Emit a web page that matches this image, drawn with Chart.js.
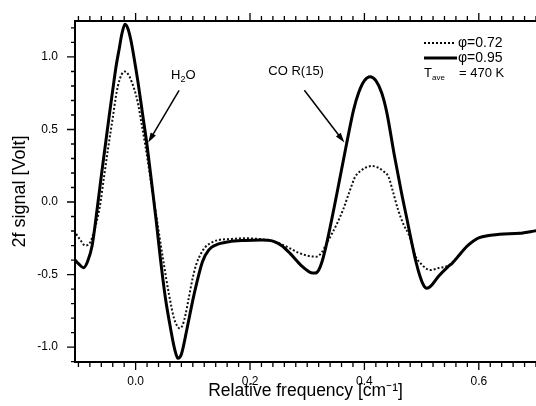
<!DOCTYPE html>
<html>
<head>
<meta charset="utf-8">
<script src="https://cdn.jsdelivr.net/npm/chart.js@4.4.0/dist/chart.umd.min.js"></script>
<style>
  html, body { margin: 0; padding: 0; background: #fff; }
</style>
</head>
<body>
<canvas id="chart" width="536" height="406"></canvas>
<script>
// phi = 0.95 (solid line)
const solidX = [-0.106, -0.100, -0.091, -0.084, -0.076, -0.067, -0.060, -0.053, -0.046, -0.038, -0.034, -0.029, -0.024,
  -0.0185, -0.013, -0.008, -0.003, 0.004, 0.012, 0.020, 0.029, 0.036, 0.043, 0.052, 0.061, 0.068, 0.074, 0.080, 0.090,
  0.102, 0.117, 0.128, 0.140, 0.163, 0.190, 0.220, 0.240, 0.255, 0.270, 0.290, 0.305, 0.314, 0.320, 0.326, 0.334,
  0.352, 0.369, 0.381, 0.390, 0.400, 0.410, 0.420, 0.430, 0.439, 0.452, 0.465, 0.474, 0.483, 0.490, 0.497, 0.503,
  0.509, 0.516, 0.530, 0.545, 0.554, 0.567, 0.578, 0.590, 0.601, 0.636, 0.671, 0.700];
const solidY = [-0.40, -0.425, -0.453, -0.41, -0.30, -0.04, 0.18, 0.39, 0.60, 0.83, 0.94, 1.05, 1.16,
  1.226, 1.19, 1.11, 1.00, 0.83, 0.61, 0.39, 0.10, -0.13, -0.38, -0.66, -0.87, -1.01, -1.078, -1.05, -0.87,
  -0.64, -0.41, -0.33, -0.297, -0.274, -0.265, -0.262, -0.27, -0.30, -0.354, -0.44, -0.485, -0.49, -0.47, -0.41, -0.285,
  0.06, 0.405, 0.634, 0.755, 0.837, 0.864, 0.837, 0.755, 0.62, 0.33, 0.06, -0.11, -0.285, -0.41, -0.51, -0.57,
  -0.595, -0.58, -0.51, -0.45, -0.42, -0.36, -0.31, -0.27, -0.246, -0.223, -0.216, -0.198];

// phi = 0.72 (dotted line)
const dotX = [-0.104, -0.097, -0.088, -0.083, -0.079, -0.074, -0.063, -0.055, -0.047, -0.040, -0.035, -0.031, -0.025,
  -0.019, -0.013, -0.007, 0.003, 0.010, 0.017, 0.026, 0.034, 0.041, 0.049, 0.058, 0.067, 0.072, 0.077, 0.082, 0.087,
  0.093, 0.100, 0.106, 0.115, 0.122, 0.135, 0.145, 0.165, 0.190, 0.215, 0.240, 0.260, 0.285, 0.300, 0.316, 0.325,
  0.334, 0.343, 0.352, 0.363, 0.372, 0.384, 0.393, 0.403, 0.413, 0.423, 0.433, 0.442, 0.450, 0.459, 0.469, 0.477,
  0.483, 0.489, 0.500, 0.515, 0.530, 0.546, 0.554, 0.567, 0.578, 0.590, 0.601, 0.636, 0.671, 0.700];
const dotY = [-0.22, -0.26, -0.30, -0.295, -0.275, -0.22, -0.04, 0.18, 0.40, 0.58, 0.715, 0.80, 0.875,
  0.90, 0.88, 0.83, 0.70, 0.55, 0.39, 0.16, -0.04, -0.22, -0.42, -0.63, -0.80, -0.85, -0.871, -0.85, -0.78,
  -0.66, -0.52, -0.43, -0.35, -0.31, -0.275, -0.262, -0.255, -0.25, -0.255, -0.27, -0.30, -0.35, -0.37, -0.377, -0.35,
  -0.285, -0.22, -0.15, -0.05, 0.05, 0.175, 0.213, 0.239, 0.248, 0.239, 0.213, 0.175, 0.07, -0.055, -0.16, -0.22,
  -0.29, -0.37, -0.43, -0.469, -0.455, -0.44, -0.415, -0.36, -0.31, -0.27, -0.246, -0.223, -0.216, -0.198];

const xMajor = [0.0, 0.2, 0.4, 0.6];
const xTickLabels = ['0.0', '0.2', '0.4', '0.6'];
const yMajor = [-1.0, -0.5, 0.0, 0.5, 1.0];
const yTickLabels = ['-1.0', '-0.5', '0.0', '0.5', '1.0'];
const legendLabels = ['\u03c6=0.72', '\u03c6=0.95'];

// minor ticks every 0.02 on x and 0.1 on y
const xMinor = [];
for (let i = -10; i <= 70; i += 2) xMinor.push(i / 100);
const yMinor = [];
for (let i = -11; i <= 12; i++) yMinor.push(i / 10);
const isMajor = (v, list) => list.some(m => Math.abs(m - v) < 1e-6);

const FONT = 'Liberation Sans, Arial, sans-serif';
const pts = (xs, ys) => xs.map((x, i) => ({ x, y: ys[i] }));

function arrow(ctx, x1, y1, x2, y2) {
  const ang = Math.atan2(y2 - y1, x2 - x1);
  const c = Math.cos(ang), s = Math.sin(ang);
  ctx.beginPath();
  ctx.moveTo(x1, y1);
  ctx.lineTo(x2 - 6 * c, y2 - 6 * s);
  ctx.stroke();
  ctx.beginPath();
  ctx.moveTo(x2, y2);
  ctx.lineTo(x2 - 10 * c + 3 * s, y2 - 10 * s - 3 * c);
  ctx.lineTo(x2 - 10 * c - 3 * s, y2 - 10 * s + 3 * c);
  ctx.closePath();
  ctx.fill();
}

// axes frame, ticks, legend and annotations
const frame = {
  id: 'frame',
  afterDraw(chart) {
    const { ctx, chartArea: a, scales: { x, y } } = chart;
    ctx.save();
    ctx.strokeStyle = '#000';
    ctx.fillStyle = '#000';
    ctx.lineWidth = 2;
    ctx.beginPath();
    ctx.moveTo(a.right, a.top); ctx.lineTo(a.left, a.top);
    ctx.lineTo(a.left, a.bottom); ctx.lineTo(a.right, a.bottom);
    ctx.stroke();

    ctx.lineWidth = 1.3;
    ctx.beginPath();
    xMinor.forEach(v => {
      const px = x.getPixelForValue(v);
      const len = isMajor(v, xMajor) ? 8 : 5;
      ctx.moveTo(px, a.bottom); ctx.lineTo(px, a.bottom + len);
      ctx.moveTo(px, a.top); ctx.lineTo(px, a.top - len);
    });
    yMinor.forEach(v => {
      const py = y.getPixelForValue(v);
      const len = isMajor(v, yMajor) ? 8 : 4;
      ctx.moveTo(a.left, py); ctx.lineTo(a.left - len, py);
    });
    ctx.stroke();

    // legend
    ctx.lineWidth = 2;
    ctx.setLineDash([2, 2]);
    ctx.beginPath(); ctx.moveTo(424, 43); ctx.lineTo(454, 43); ctx.stroke();
    ctx.setLineDash([]);
    ctx.lineWidth = 3;
    ctx.beginPath(); ctx.moveTo(424, 58); ctx.lineTo(457, 58); ctx.stroke();
    ctx.font = '14px ' + FONT;
    ctx.textBaseline = 'middle';
    ctx.textAlign = 'left';
    ctx.fillText(legendLabels[0], 458, 43);
    ctx.fillText(legendLabels[1], 458, 58);
    ctx.font = '13px ' + FONT;
    ctx.fillText('T', 424, 73);
    ctx.font = '8px ' + FONT;
    ctx.fillText('ave', 432, 78);
    ctx.font = '13px ' + FONT;
    ctx.fillText('= 470 K', 459, 73);

    // annotations (placed in data units)
    ctx.font = '13px ' + FONT;
    const hx = x.getPixelForValue(0.062), hy = y.getPixelForValue(0.87);
    ctx.fillText('H', hx, hy);
    const w = ctx.measureText('H').width;
    ctx.font = '9px ' + FONT;
    ctx.fillText('2', hx + w, hy + 4);
    const w2 = ctx.measureText('2').width;
    ctx.font = '13px ' + FONT;
    ctx.fillText('O', hx + w + w2, hy);
    ctx.fillText('CO R(15)', x.getPixelForValue(0.232), y.getPixelForValue(0.90));

    ctx.lineWidth = 1.5;
    arrow(ctx, x.getPixelForValue(0.076), y.getPixelForValue(0.77), x.getPixelForValue(0.022), y.getPixelForValue(0.41));
    arrow(ctx, x.getPixelForValue(0.295), y.getPixelForValue(0.77), x.getPixelForValue(0.365), y.getPixelForValue(0.41));
    ctx.restore();
  }
};

new Chart(document.getElementById('chart'), {
  type: 'scatter',
  data: {
    datasets: [
      { label: legendLabels[1], data: pts(solidX, solidY), showLine: true, borderColor: '#000', borderWidth: 3,
        pointRadius: 0, cubicInterpolationMode: 'monotone' },
      { label: legendLabels[0], data: pts(dotX, dotY), showLine: true, borderColor: '#111', borderWidth: 2,
        borderDash: [2, 2], pointRadius: 0, cubicInterpolationMode: 'monotone' }
    ]
  },
  options: {
    responsive: false,
    animation: false,
    devicePixelRatio: 1,
    layout: { padding: { top: 21, right: 0, left: 0, bottom: 0 } },
    plugins: { legend: { display: false }, tooltip: { enabled: false } },
    scales: {
      x: {
        type: 'linear', min: -0.106, max: 0.70,
        afterBuildTicks: s => { s.ticks = xMajor.map(v => ({ value: v })); },
        afterFit: s => { s.height = 44; s.paddingLeft = 0; s.paddingRight = 0; },
        grid: { display: false, drawTicks: false },
        border: { display: false },
        ticks: { padding: 12, autoSkip: false, maxRotation: 0, color: '#000',
          font: { family: FONT, size: 12 }, callback: (v, i) => xTickLabels[i] },
        title: { display: true, text: 'Relative frequency [cm\u207b\u00b9]', color: '#000',
          font: { family: FONT, size: 17.5 }, padding: { top: 0, bottom: 4 } }
      },
      y: {
        type: 'linear', min: -1.103, max: 1.248,
        afterBuildTicks: s => { s.ticks = yMajor.map(v => ({ value: v })); },
        afterFit: s => { s.width = 75; s.paddingTop = 0; s.paddingBottom = 0; },
        grid: { display: false, drawTicks: false },
        border: { display: false },
        ticks: { padding: 17, autoSkip: false, color: '#000',
          font: { family: FONT, size: 12 }, callback: (v, i) => yTickLabels[i] },
        title: { display: true, text: '2f signal [Volt]', color: '#000',
          font: { family: FONT, size: 18 }, padding: { top: 9, bottom: 0 } }
      }
    }
  },
  plugins: [frame]
});
</script>
</body>
</html>
